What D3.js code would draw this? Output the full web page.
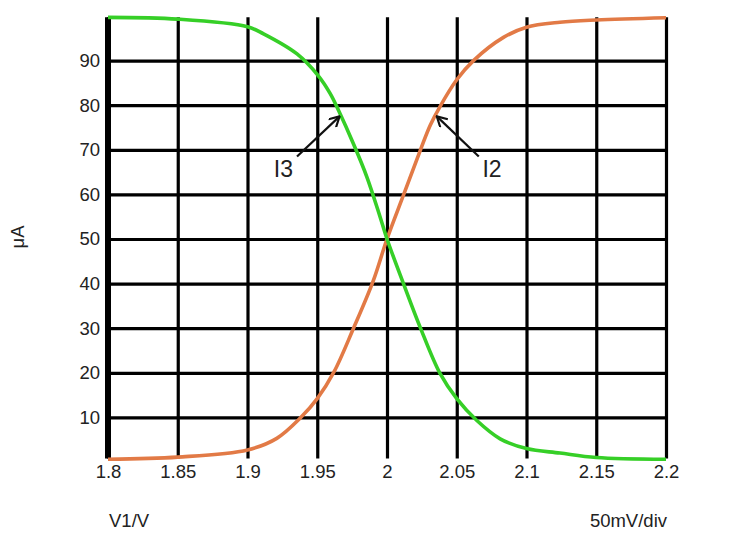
<!DOCTYPE html>
<html>
<head>
<meta charset="utf-8">
<script src="https://cdn.jsdelivr.net/npm/d3@7"></script>
<style>
  html, body { margin: 0; padding: 0; background: #fff; }
  svg text { font-family: 'Liberation Sans', Arial, sans-serif; fill: #222; }
</style>
</head>
<body>
<div id="container"></div>
<script>
const w = 735;
const h = 550;

// data
const xTicks = [1.8, 1.85, 1.9, 1.95, 2, 2.05, 2.1, 2.15, 2.2];
const xTickLabels = ['1.8', '1.85', '1.9', '1.95', '2', '2.05', '2.1', '2.15', '2.2'];
const yTicks = [10, 20, 30, 40, 50, 60, 70, 80, 90];
const yTickLabels = ['10', '20', '30', '40', '50', '60', '70', '80', '90'];

const i2V = [1.8, 1.85, 1.9, 1.921, 1.938, 1.95, 1.962, 1.976, 1.99, 2.0, 2.012, 2.024, 2.031, 2.038, 2.05, 2.062, 2.0835, 2.1, 2.124, 2.15, 2.2];
const i2A = [0.6, 1.1, 2.7, 5.3, 9.9, 14.2, 20.2, 30, 40.5, 50, 60, 70, 75.5, 79.7, 85.7, 90, 95.2, 97.5, 98.6, 99.1, 99.6];

const i3V = [1.8, 1.85, 1.9, 1.9115, 1.9355, 1.9505, 1.9593, 1.9653, 1.976, 1.9856, 1.995, 2.0, 2.0118, 2.0238, 2.0381, 2.05, 2.0644, 2.0811, 2.1, 2.124, 2.15, 2.2];
const i3A = [99.7, 99.3, 97.6, 96.0, 91.5, 86.7, 82.6, 78.8, 71.3, 63.9, 55, 50, 40, 30.2, 19.8, 14.2, 9.3, 5.2, 3.0, 2.0, 1.0, 0.6];

// annotation arrows: [label, tail V, tail A, head V, head A, label V, label A]
const notes = [
  ['I3', 1.9355, 68.5, 1.966, 77.5, 1.9257, 63.8],
  ['I2', 2.0658, 68.5, 2.0357, 77.5, 2.0753, 63.8]
];

const svg = d3.select('#container')
  .append('svg')
  .attr('width', w)
  .attr('height', h);

const xScale = d3.scaleLinear().domain([1.8, 2.2]).range([108, 666]);
const yScale = d3.scaleLinear().domain([0, 100]).range([462, 16]);
const gridTop = yScale(99.7);
const gridBottom = yScale(0.8);

const xAxis = d3.axisBottom(xScale)
  .tickValues(xTicks)
  .tickFormat((d, i) => xTickLabels[i])
  .tickSize(-(gridBottom - gridTop))
  .tickPadding(6);
const yAxis = d3.axisLeft(yScale)
  .tickValues(yTicks)
  .tickFormat((d, i) => yTickLabels[i])
  .tickSize(-(xScale(2.2) - xScale(1.8)))
  .tickPadding(8);

const gx = svg.append('g')
  .attr('transform', `translate(0,${gridBottom})`)
  .call(xAxis);
const gy = svg.append('g')
  .attr('transform', `translate(${xScale(1.8)},0)`)
  .call(yAxis);

[gx, gy].forEach(g => {
  g.select('.domain').remove();
  g.selectAll('line').attr('stroke', '#000').attr('stroke-width', 3.2);
  g.selectAll('text').style('font-size', '18.5px').attr('fill', '#222');
});

// thick left edge
svg.append('line')
  .attr('x1', xScale(1.8)).attr('x2', xScale(1.8))
  .attr('y1', gridTop).attr('y2', gridBottom)
  .attr('stroke', '#000')
  .attr('stroke-width', 6);

const line = d3.line()
  .x(d => xScale(d[0]))
  .y(d => yScale(d[1]))
  .curve(d3.curveCatmullRom.alpha(0.5));

svg.append('path')
  .datum(i2V.map((v, i) => [v, i2A[i]]))
  .attr('d', line)
  .attr('fill', 'none')
  .attr('stroke', '#e27a46')
  .attr('stroke-width', 3.6);

svg.append('path')
  .datum(i3V.map((v, i) => [v, i3A[i]]))
  .attr('d', line)
  .attr('fill', 'none')
  .attr('stroke', '#36cf27')
  .attr('stroke-width', 3.6);

svg.append('defs').append('marker')
  .attr('id', 'head')
  .attr('viewBox', '0 0 12 12')
  .attr('refX', 11)
  .attr('refY', 6)
  .attr('markerWidth', 12)
  .attr('markerHeight', 12)
  .attr('markerUnits', 'userSpaceOnUse')
  .attr('orient', 'auto')
  .append('path')
  .attr('d', 'M1,0.5 L11,6 L1,11.5')
  .attr('fill', 'none')
  .attr('stroke', '#111')
  .attr('stroke-width', 2.2);

svg.selectAll('.note-line')
  .data(notes)
  .enter()
  .append('line')
  .attr('class', 'note-line')
  .attr('x1', d => xScale(d[1]))
  .attr('y1', d => yScale(d[2]))
  .attr('x2', d => xScale(d[3]))
  .attr('y2', d => yScale(d[4]))
  .attr('stroke', '#111')
  .attr('stroke-width', 2.2)
  .attr('marker-end', 'url(#head)');

svg.selectAll('.note-text')
  .data(notes)
  .enter()
  .append('text')
  .attr('class', 'note-text')
  .attr('x', d => xScale(d[5]))
  .attr('y', d => yScale(d[6]))
  .attr('text-anchor', 'middle')
  .style('font-size', '23px')
  .text(d => d[0]);

svg.append('text')
  .text('V1/V')
  .attr('x', 109)
  .attr('y', 527)
  .style('font-size', '18.5px');
svg.append('text')
  .text('50mV/div')
  .attr('x', 667)
  .attr('y', 527)
  .attr('text-anchor', 'end')
  .style('font-size', '18.5px');
svg.append('text')
  .text('μA')
  .attr('transform', 'translate(24,237) rotate(-90)')
  .attr('text-anchor', 'middle')
  .style('font-size', '18.5px');
</script>
</body>
</html>
